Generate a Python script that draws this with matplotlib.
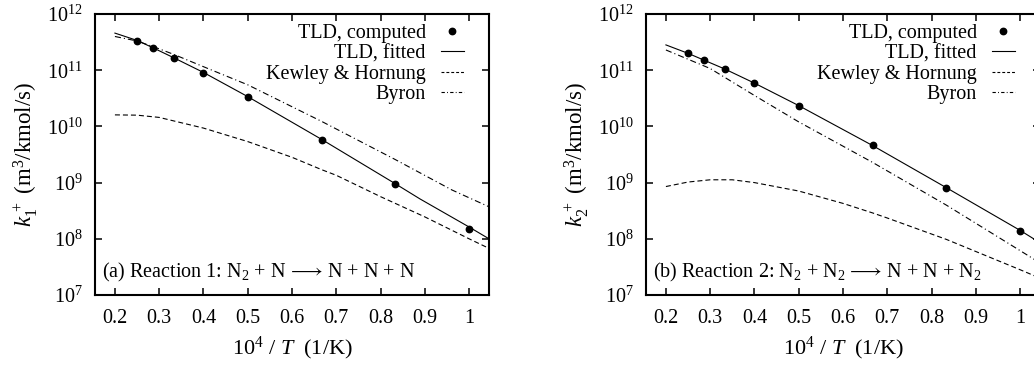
import numpy as np
import matplotlib
matplotlib.use("Agg")
import matplotlib.pyplot as plt
from matplotlib.lines import Line2D

plt.rcParams['font.family'] = ['Liberation Serif', 'DejaVu Serif']
plt.rcParams['mathtext.fontset'] = 'custom'
plt.rcParams['mathtext.rm'] = 'Liberation Serif'
plt.rcParams['mathtext.it'] = 'Liberation Serif:italic'
plt.rcParams['mathtext.fallback'] = 'stix'
plt.rcParams['font.size'] = 14.5

# computed points: x = 1e4/T
x_pts = [0.25, 0.2857, 0.3333, 0.4, 0.5, 0.6667, 0.8333, 1.0]
k1_pts = [3.3e11, 2.45e11, 1.63e11, 8.8e10, 3.3e10, 5.8e9, 9.5e8, 1.5e8]
k2_pts = [2.0e11, 1.5e11, 1.05e11, 5.9e10, 2.35e10, 4.6e9, 8.1e8, 1.4e8]

# curves (log10 of rate)
x_fit1 = [0.2, 0.25, 0.2857, 0.3333, 0.4, 0.5, 0.6667, 0.8333, 0.889, 1.0, 1.045]
lg_fit1 = [11.66, 11.53, 11.40, 11.22, 10.96, 10.53, 9.77, 8.98, 8.71, 8.21, 8.00]
x_kh1 = [0.2, 0.25, 0.3, 0.4, 0.5, 0.6, 0.667, 0.7, 0.8, 0.9, 1.0, 1.045]
lg_kh1 = [10.205, 10.20, 10.16, 9.97, 9.73, 9.45, 9.23, 9.13, 8.75, 8.39, 8.00, 7.83]
x_by1 = [0.2, 0.25, 0.3, 0.3333, 0.41, 0.5, 0.6667, 0.8333, 0.961, 1.0, 1.045]
lg_by1 = [11.60, 11.52, 11.38, 11.28, 11.03, 10.74, 10.09, 9.41, 8.87, 8.73, 8.57]

x_fit2 = [0.2, 0.25, 0.2857, 0.3333, 0.4, 0.5, 0.6667, 0.8333, 1.0, 1.045]
lg_fit2 = [11.45, 11.30, 11.18, 11.02, 10.77, 10.37, 9.66, 8.91, 8.15, 7.93]
x_kh2 = [0.2, 0.25, 0.3, 0.35, 0.4, 0.5, 0.6, 0.667, 0.7, 0.8333, 1.0, 1.045]
lg_kh2 = [8.93, 9.01, 9.05, 9.05, 9.00, 8.85, 8.63, 8.46, 8.37, 7.99, 7.45, 7.30]
x_by2 = [0.2, 0.3, 0.4, 0.5, 0.6667, 0.8333, 1.0, 1.045]
lg_by2 = [11.36, 11.03, 10.55, 10.08, 9.36, 8.60, 7.79, 7.57]

legend_labels = ['TLD, computed', 'TLD, fitted', 'Kewley & Hornung', 'Byron']
panel_texts = [r'(a) Reaction 1: N$_2$ + N$\,\longrightarrow\,$N + N + N',
               r'(b) Reaction 2: N$_2$ + N$_2\,\longrightarrow\,$N + N + N$_2$']
ylabels = [r'$k_1^{\,+}$ (m$^3$/kmol/s)', r'$k_2^{\,+}$ (m$^3$/kmol/s)']
xticks = [0.2, 0.3, 0.4, 0.5, 0.6, 0.7, 0.8, 0.9, 1.0]
xticklabels = ['0.2', '0.3', '0.4', '0.5', '0.6', '0.7', '0.8', '0.9', '1']

DASH = (0, (4.5, 2.7))
DASHDOT = (0, (5.5, 2.7, 1.0, 2.7))
LW = 0.8

fig = plt.figure(figsize=(10.34, 3.68), dpi=100)
W, H = 1034.0, 368.0
ax1 = fig.add_axes([95 / W, 73 / H, 394 / W, 281 / H])
ax2 = fig.add_axes([646 / W, 73 / H, 394 / W, 281 / H])

panels = [
    (ax1, x_pts, k1_pts, x_fit1, lg_fit1, x_kh1, lg_kh1, x_by1, lg_by1),
    (ax2, x_pts, k2_pts, x_fit2, lg_fit2, x_kh2, lg_kh2, x_by2, lg_by2),
]

for i, (ax, xp, kp, xf, lf, xk, lk, xb, lb) in enumerate(panels):
    ax.plot(xf, 10 ** np.array(lf), color='black', lw=LW)
    ax.plot(xk, 10 ** np.array(lk), color='black', lw=LW, linestyle=DASH)
    ax.plot(xb, 10 ** np.array(lb), color='black', lw=LW, linestyle=DASHDOT)
    ax.plot(xp, kp, 'o', color='black', ms=4.6, clip_on=False)

    ax.set_yscale('log')
    ax.set_ylim(1e7, 1e12)
    ax.set_xlim(0.155, 1.045)
    ax.set_yticks([1e7, 1e8, 1e9, 1e10, 1e11, 1e12])
    ax.yaxis.set_minor_locator(matplotlib.ticker.NullLocator())
    ax.set_xticks(xticks)
    ax.set_xticklabels(xticklabels)
    ax.tick_params(direction='in', top=True, right=True, length=5, width=1.1)
    ax.tick_params(axis='y', pad=9)
    ax.tick_params(axis='x', pad=10)
    for s in ax.spines.values():
        s.set_linewidth(1.5)

    ax.set_xlabel(r'10$^4$ / $T$  (1/K)', fontsize=16, labelpad=5)
    ax.set_ylabel(ylabels[i], fontsize=16.5, labelpad=5)

    ax.text(0.018, 0.062, panel_texts[i], transform=ax.transAxes,
            ha='left', va='baseline')

    handles = [
        Line2D([], [], linestyle='none', marker='o', color='black', ms=4.6),
        Line2D([], [], color='black', lw=LW),
        Line2D([], [], color='black', lw=LW, linestyle=(0, (2.6, 1.8))),
        Line2D([], [], color='black', lw=LW, linestyle=(0, (3.0, 2.0, 0.8, 2.0))),
    ]
    ax.legend(handles, legend_labels, loc='upper right',
              bbox_to_anchor=(0.9365, 0.965), frameon=False,
              markerfirst=False, borderpad=0, borderaxespad=0,
              labelspacing=0.07, handlelength=1.15, handletextpad=0.75)

fig.savefig('out.png', dpi=100)
